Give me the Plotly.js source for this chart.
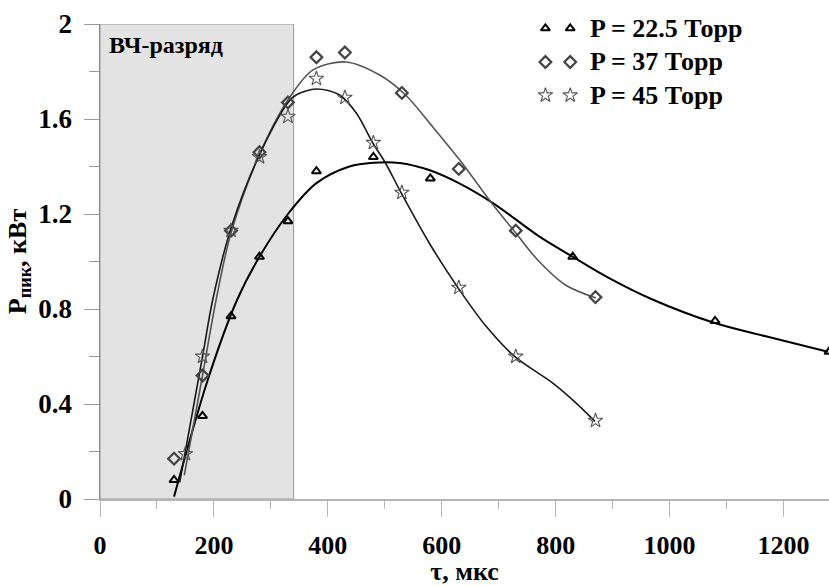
<!DOCTYPE html>
<html>
<head>
<meta charset="utf-8">
<script src="https://cdn.plot.ly/plotly-3.0.1.min.js"></script>
<style>html,body{margin:0;padding:0;background:#fff;}#chart{width:829px;height:586px;}</style>
</head>
<body>
<div id="chart"></div>
<script>
// measured points
const tauTri = [130, 180, 230, 280, 330, 380, 480, 580, 830, 1080, 1280];
const pTri   = [0.08, 0.35, 0.77, 1.02, 1.17, 1.38, 1.44, 1.35, 1.02, 0.75, 0.62];
const tauDia = [130, 180, 230, 280, 330, 380, 430, 530, 630, 730, 870];
const pDia   = [0.17, 0.52, 1.13, 1.46, 1.67, 1.86, 1.88, 1.71, 1.39, 1.13, 0.85];
const tauStar = [150, 180, 230, 280, 330, 380, 430, 480, 530, 630, 730, 870];
const pStar   = [0.19, 0.60, 1.13, 1.44, 1.61, 1.77, 1.69, 1.50, 1.29, 0.89, 0.60, 0.33];

// fitted curves
const fitTriT = [130, 189, 241, 280, 330, 380, 438, 480, 526, 578, 630, 690, 771, 830, 894, 970, 1078, 1169, 1278];
const fitTriP = [0.01, 0.50, 0.84, 1.02, 1.20, 1.33, 1.40, 1.416, 1.415, 1.385, 1.33, 1.246, 1.106, 1.02, 0.93, 0.84, 0.742, 0.685, 0.62];
const fitDiaT = [148, 180, 204, 230, 280, 330, 374, 432, 491, 537, 584, 631, 690, 730, 771, 818, 871];
const fitDiaP = [0.10, 0.52, 0.84, 1.12, 1.45, 1.68, 1.807, 1.84, 1.785, 1.70, 1.567, 1.429, 1.239, 1.12, 1.00, 0.90, 0.846];
const fitStarT = [140, 180, 198, 230, 280, 330, 345, 380, 420, 450, 479, 500, 529, 578, 629, 678, 729, 795, 836, 869];
const fitStarP = [0.07, 0.60, 0.84, 1.14, 1.45, 1.67, 1.702, 1.726, 1.702, 1.625, 1.499, 1.42, 1.288, 1.078, 0.888, 0.727, 0.598, 0.488, 0.404, 0.327];

// region / labels
const rfRegion = [0, 340];
const xTicks = [0, 200, 400, 600, 800, 1000, 1200];
const yTicks = [0, 0.4, 0.8, 1.2, 1.6, 2];
const yTickText = ['0', '0.4', '0.8', '1.2', '1.6', '2'];
const seriesNames = ['P = 22.5 Торр', 'P = 37 Торр', 'P = 45 Торр'];

const FONT = '"Liberation Serif", "Times New Roman", Times, serif';
const styles = [
  {symbol: 'triangle-up-open', color: '#000', size: 8, lw: 2, curve: '#000', cw: 2},
  {symbol: 'diamond-open', color: '#444', size: 9, lw: 2.2, curve: '#555', cw: 1.6},
  {symbol: 'star-open', color: '#555', size: 11, lw: 1.1, curve: '#1a1a1a', cw: 1.6}
];
const fits = [[fitTriT, fitTriP], [fitDiaT, fitDiaP], [fitStarT, fitStarP]];
const pts = [[tauTri, pTri], [tauDia, pDia], [tauStar, pStar]];

const traces = [];
fits.forEach((f, i) => {
  traces.push({x: f[0], y: f[1], mode: 'lines', type: 'scatter', showlegend: false,
    line: {color: styles[i].curve, width: styles[i].cw, shape: 'spline', smoothing: 0.9}, hoverinfo: 'skip'});
});
pts.forEach((p, i) => {
  traces.push({x: p[0], y: p[1], mode: 'markers', type: 'scatter', showlegend: false, name: seriesNames[i],
    marker: {symbol: styles[i].symbol, size: styles[i].size, color: styles[i].color,
             line: {color: styles[i].color, width: styles[i].lw}}});
});

// custom legend: two sample markers per row on an overlay axis
const legendSampleX = [0.611, 0.645];
const legendRowY = [0.991, 0.920, 0.850];
const legendTextX = 0.669;
const annotations = [];
styles.forEach((s, i) => {
  traces.push({x: legendSampleX, y: [legendRowY[i], legendRowY[i]], xaxis: 'x2', yaxis: 'y2',
    mode: 'markers', type: 'scatter', showlegend: false, hoverinfo: 'skip', cliponaxis: false,
    marker: {symbol: s.symbol, size: s.size, color: s.color, line: {color: s.color, width: s.lw}}});
  annotations.push({xref: 'paper', yref: 'paper', x: legendTextX, y: legendRowY[i], xanchor: 'left', yanchor: 'middle',
    text: seriesNames[i], showarrow: false, font: {family: FONT, size: 26, color: '#000', weight: 700}});
});
annotations.push({xref: 'x', yref: 'paper', x: 12, y: 0.955, xanchor: 'left', yanchor: 'middle',
  text: 'ВЧ-разряд', showarrow: false, font: {family: FONT, size: 24, color: '#000', weight: 700}});

const layout = {
  width: 829, height: 586,
  margin: {l: 100, r: 0, t: 24, b: 87},
  paper_bgcolor: '#fff', plot_bgcolor: '#fff',
  showlegend: false,
  font: {family: FONT, size: 26, color: '#000', weight: 700},
  xaxis: {range: [0, 1280], tickvals: xTicks, ticks: 'outside', ticklen: 16, tickcolor: '#b5b5b5', tickwidth: 1,
    showline: true, linecolor: '#b5b5b5', linewidth: 1.5, showgrid: false, zeroline: false,
    minor: {dtick: 100, tick0: 0, ticks: 'outside', ticklen: 8, tickcolor: '#b5b5b5', tickwidth: 1, showgrid: false},
    tickfont: {family: FONT, size: 26, color: '#000', weight: 700}, ticklabelstandoff: 6,
    title: {text: 'τ, мкс', font: {family: FONT, size: 26, color: '#000', weight: 700}, standoff: 6}},
  yaxis: {range: [0, 2], tickvals: yTicks, ticktext: yTickText, ticks: 'outside', ticklen: 15, tickcolor: '#999', tickwidth: 1,
    showline: true, linecolor: '#888', linewidth: 1.5, showgrid: false, zeroline: false,
    minor: {dtick: 0.2, tick0: 0, ticks: 'outside', ticklen: 10, tickcolor: '#999', tickwidth: 1, showgrid: false},
    tickfont: {family: FONT, size: 27, color: '#000', weight: 700}, ticklabelstandoff: 6,
    title: {text: 'P<sub>пик</sub>, кВт', font: {family: FONT, size: 26, color: '#000', weight: 700}, standoff: 4}},
  xaxis2: {overlaying: 'x', range: [0, 1], visible: false, fixedrange: true},
  yaxis2: {overlaying: 'y', range: [0, 1], visible: false, fixedrange: true},
  shapes: [{type: 'rect', xref: 'x', yref: 'y', x0: rfRegion[0], x1: rfRegion[1], y0: 0, y1: 2,
    fillcolor: '#e3e3e3', line: {color: '#999', width: 1}, layer: 'below'}],
  annotations: annotations
};

Plotly.newPlot('chart', traces, layout, {displayModeBar: false, staticPlot: true});
</script>
</body>
</html>
